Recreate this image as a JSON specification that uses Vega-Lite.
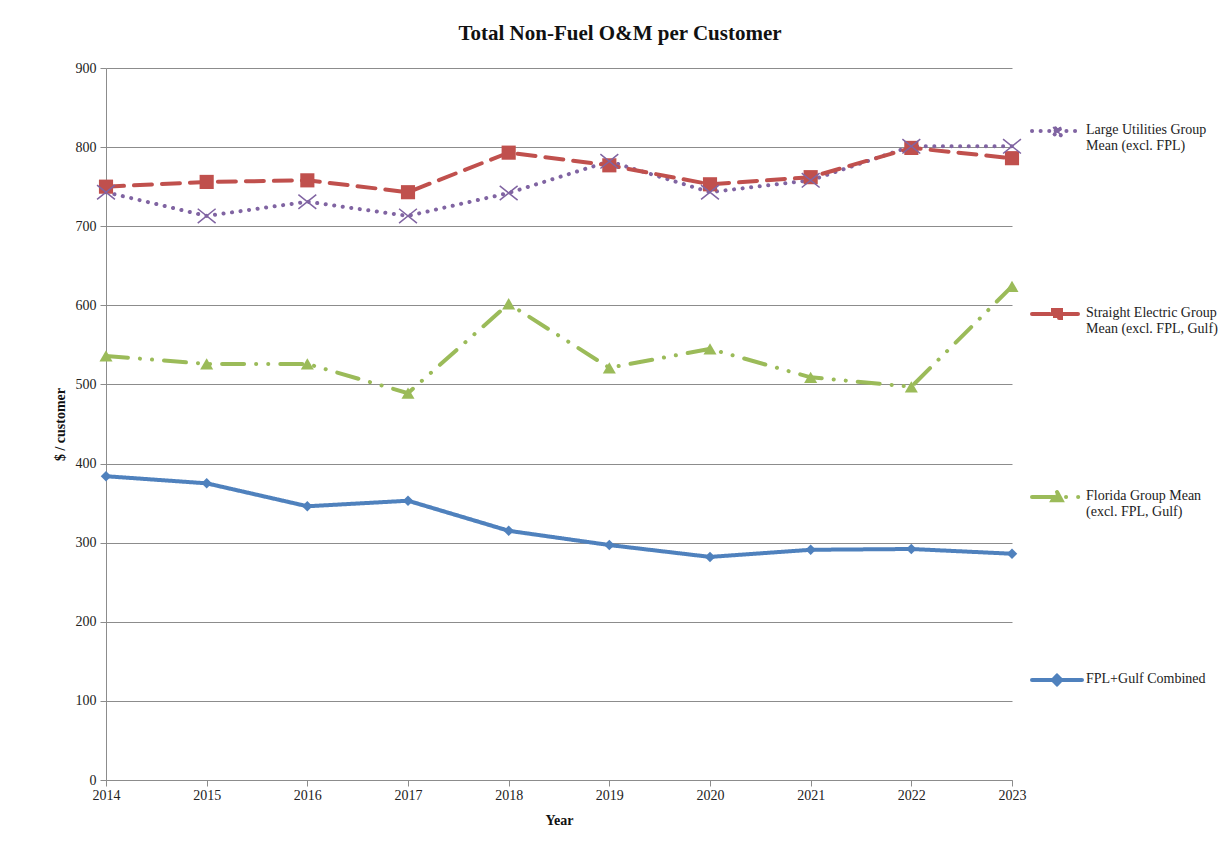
{
  "$schema": "https://vega.github.io/schema/vega-lite/v6.json",
  "width": 906,
  "height": 712,
  "autosize": "none",
  "padding": {"left": 106, "top": 68, "right": 208, "bottom": 70},
  "background": "white",
  "title": {
    "text": "Total Non-Fuel O&M per Customer",
    "font": "Liberation Serif",
    "fontSize": 21,
    "fontWeight": "bold",
    "color": "#111111",
    "anchor": "middle",
    "frame": "group",
    "dx": 61,
    "offset": 0,
    "baseline": "alphabetic"
  },
  "config": {
    "font": "Liberation Serif",
    "view": {"stroke": null},
    "axis": {
      "labelFont": "Liberation Serif",
      "titleFont": "Liberation Serif",
      "labelColor": "#222222",
      "titleColor": "#111111",
      "domainColor": "#8c8c8c",
      "tickColor": "#8c8c8c",
      "gridColor": "#8c8c8c",
      "labelFontSize": 14,
      "titleFontSize": 14
    }
  },
  "data": {
    "values": [
      {"series": "Large Utilities Group Mean (excl. FPL)", "year": 2014, "value": 743},
      {"series": "Large Utilities Group Mean (excl. FPL)", "year": 2015, "value": 713},
      {"series": "Large Utilities Group Mean (excl. FPL)", "year": 2016, "value": 731},
      {"series": "Large Utilities Group Mean (excl. FPL)", "year": 2017, "value": 713},
      {"series": "Large Utilities Group Mean (excl. FPL)", "year": 2018, "value": 742},
      {"series": "Large Utilities Group Mean (excl. FPL)", "year": 2019, "value": 782},
      {"series": "Large Utilities Group Mean (excl. FPL)", "year": 2020, "value": 743},
      {"series": "Large Utilities Group Mean (excl. FPL)", "year": 2021, "value": 758},
      {"series": "Large Utilities Group Mean (excl. FPL)", "year": 2022, "value": 801},
      {"series": "Large Utilities Group Mean (excl. FPL)", "year": 2023, "value": 801},
      {"series": "Straight Electric Group Mean (excl. FPL, Gulf)", "year": 2014, "value": 750},
      {"series": "Straight Electric Group Mean (excl. FPL, Gulf)", "year": 2015, "value": 756},
      {"series": "Straight Electric Group Mean (excl. FPL, Gulf)", "year": 2016, "value": 758},
      {"series": "Straight Electric Group Mean (excl. FPL, Gulf)", "year": 2017, "value": 743},
      {"series": "Straight Electric Group Mean (excl. FPL, Gulf)", "year": 2018, "value": 793},
      {"series": "Straight Electric Group Mean (excl. FPL, Gulf)", "year": 2019, "value": 777},
      {"series": "Straight Electric Group Mean (excl. FPL, Gulf)", "year": 2020, "value": 753},
      {"series": "Straight Electric Group Mean (excl. FPL, Gulf)", "year": 2021, "value": 762},
      {"series": "Straight Electric Group Mean (excl. FPL, Gulf)", "year": 2022, "value": 799},
      {"series": "Straight Electric Group Mean (excl. FPL, Gulf)", "year": 2023, "value": 786},
      {"series": "Florida Group Mean (excl. FPL, Gulf)", "year": 2014, "value": 536},
      {"series": "Florida Group Mean (excl. FPL, Gulf)", "year": 2015, "value": 526},
      {"series": "Florida Group Mean (excl. FPL, Gulf)", "year": 2016, "value": 526},
      {"series": "Florida Group Mean (excl. FPL, Gulf)", "year": 2017, "value": 489},
      {"series": "Florida Group Mean (excl. FPL, Gulf)", "year": 2018, "value": 602},
      {"series": "Florida Group Mean (excl. FPL, Gulf)", "year": 2019, "value": 521},
      {"series": "Florida Group Mean (excl. FPL, Gulf)", "year": 2020, "value": 545},
      {"series": "Florida Group Mean (excl. FPL, Gulf)", "year": 2021, "value": 509},
      {"series": "Florida Group Mean (excl. FPL, Gulf)", "year": 2022, "value": 497},
      {"series": "Florida Group Mean (excl. FPL, Gulf)", "year": 2023, "value": 624},
      {"series": "FPL+Gulf Combined", "year": 2014, "value": 384},
      {"series": "FPL+Gulf Combined", "year": 2015, "value": 375},
      {"series": "FPL+Gulf Combined", "year": 2016, "value": 346},
      {"series": "FPL+Gulf Combined", "year": 2017, "value": 353},
      {"series": "FPL+Gulf Combined", "year": 2018, "value": 315},
      {"series": "FPL+Gulf Combined", "year": 2019, "value": 297},
      {"series": "FPL+Gulf Combined", "year": 2020, "value": 282},
      {"series": "FPL+Gulf Combined", "year": 2021, "value": 291},
      {"series": "FPL+Gulf Combined", "year": 2022, "value": 292},
      {"series": "FPL+Gulf Combined", "year": 2023, "value": 286}
    ]
  },
  "encoding": {
    "x": {
      "field": "year",
      "type": "quantitative",
      "scale": {"domain": [2014, 2023], "nice": false, "zero": false},
      "axis": {
        "values": [2014, 2015, 2016, 2017, 2018, 2019, 2020, 2021, 2022, 2023],
        "format": "d",
        "grid": false,
        "title": "Year",
        "titleFontWeight": "bold",
        "titlePadding": 11,
        "tickSize": 6,
        "labelPadding": 2,
        "labelFlush": false,
        "labelFontSize": 14,
        "titleFontSize": 14
      }
    },
    "y": {
      "field": "value",
      "type": "quantitative",
      "scale": {"domain": [0, 900], "nice": false},
      "axis": {
        "values": [0, 100, 200, 300, 400, 500, 600, 700, 800, 900],
        "grid": true,
        "title": "$ / customer",
        "titleFontWeight": "bold",
        "titlePadding": 8,
        "tickSize": 6,
        "labelPadding": 4,
        "labelFontSize": 14,
        "titleFontSize": 14
      }
    }
  },
  "layer": [
    {
      "mark": {"type": "line", "strokeWidth": 4, "strokeCap": "round"},
      "encoding": {
        "color": {
          "field": "series",
          "type": "nominal",
          "scale": {
            "domain": ["Large Utilities Group Mean (excl. FPL)", "Straight Electric Group Mean (excl. FPL, Gulf)", "Florida Group Mean (excl. FPL, Gulf)", "FPL+Gulf Combined"],
            "range": ["#8064A2", "#C0504D", "#9BBB59", "#4F81BD"]
          },
          "legend": {
            "orient": "none",
            "legendX": 924,
            "legendY": 36,
            "title": null,
            "symbolType": "stroke",
            "symbolSize": 2500,
            "symbolStrokeWidth": 4,
            "labelFont": "Liberation Serif",
            "labelFontSize": 14,
            "labelColor": "#222222",
            "labelBaseline": "top",
            "labelOffset": 2,
            "labelLimit": 200,
            "rowPadding": 134,
            "labelExpr": "datum.label == 'Large Utilities Group Mean (excl. FPL)' ? ['Large Utilities Group', 'Mean (excl. FPL)'] : datum.label == 'Straight Electric Group Mean (excl. FPL, Gulf)' ? ['Straight Electric Group', 'Mean (excl. FPL, Gulf)'] : datum.label == 'Florida Group Mean (excl. FPL, Gulf)' ? ['Florida Group Mean', '(excl. FPL, Gulf)'] : datum.label",
            "encode": {
              "labels": {"update": {"dy": {"value": -8}}},
              "symbols": {
                "update": {
                  "shape": {"signal": "datum.value == 'FPL+Gulf Combined' ? 'M-1,0L1,0M0,-0.17L0.17,0L0,0.17L-0.17,0Z' : datum.value == 'Florida Group Mean (excl. FPL, Gulf)' ? 'M-1,0L1,0M0,-0.2L0.18,0.13L-0.18,0.13Z' : datum.value == 'Straight Electric Group Mean (excl. FPL, Gulf)' ? 'M-1,0L1,0M-0.16,-0.16L0.16,-0.16L0.16,0.16L-0.16,0.16Z' : 'M-1,0L1,0M0,-0.04L0.14,-0.18L0.18,-0.14L0.04,0L0.18,0.14L0.14,0.18L0,0.04L-0.14,0.18L-0.18,0.14L-0.04,0L-0.18,-0.14L-0.14,-0.18Z'"},
                  "size": {"value": 2500},
                  "fill": {"signal": "datum.value == 'FPL+Gulf Combined' ? '#4F81BD' : datum.value == 'Florida Group Mean (excl. FPL, Gulf)' ? '#9BBB59' : datum.value == 'Straight Electric Group Mean (excl. FPL, Gulf)' ? '#C0504D' : '#8064A2'"},
                  "stroke": {"signal": "datum.value == 'FPL+Gulf Combined' ? '#4F81BD' : datum.value == 'Florida Group Mean (excl. FPL, Gulf)' ? '#9BBB59' : datum.value == 'Straight Electric Group Mean (excl. FPL, Gulf)' ? '#C0504D' : '#8064A2'"},
                  "strokeDash": {"signal": "datum.value == 'FPL+Gulf Combined' ? [1, 0] : datum.value == 'Florida Group Mean (excl. FPL, Gulf)' ? [22, 8, 0.1, 8, 0.1, 20] : datum.value == 'Straight Electric Group Mean (excl. FPL, Gulf)' ? [17, 16, 17] : [0.1, 8.3]"},
                  "strokeWidth": {"value": 4},
                  "strokeCap": {"value": "round"},
                  "opacity": {"value": 1},
                  "fillOpacity": {"value": 1},
                  "strokeOpacity": {"value": 1}
                }
              }
            }
          }
        },
        "strokeDash": {
          "field": "series",
          "type": "nominal",
          "scale": {
            "domain": ["Large Utilities Group Mean (excl. FPL)", "Straight Electric Group Mean (excl. FPL, Gulf)", "Florida Group Mean (excl. FPL, Gulf)", "FPL+Gulf Combined"],
            "range": [[0.1, 8.5], [18, 10], [22, 12, 0.1, 12, 0.1, 12], [1, 0]]
          }
        },
        "order": {"field": "year"}
      }
    },
    {
      "transform": [{"filter": "datum.series == 'FPL+Gulf Combined'"}],
      "mark": {"type": "point", "shape": "diamond", "filled": true, "opacity": 1, "size": 110, "color": "#4F81BD"}
    },
    {
      "transform": [{"filter": "datum.series == 'Florida Group Mean (excl. FPL, Gulf)'"}],
      "mark": {"type": "point", "shape": "triangle-up", "filled": true, "opacity": 1, "size": 170, "color": "#9BBB59"}
    },
    {
      "transform": [{"filter": "datum.series == 'Straight Electric Group Mean (excl. FPL, Gulf)'"}],
      "mark": {"type": "point", "shape": "square", "filled": true, "opacity": 1, "size": 200, "color": "#C0504D"}
    },
    {
      "transform": [{"filter": "datum.series == 'Large Utilities Group Mean (excl. FPL)'"}],
      "mark": {"type": "point", "shape": "M-1,-0.8L1,0.8M-1,0.8L1,-0.8", "filled": false, "opacity": 1, "size": 320, "strokeWidth": 1.5, "color": "#8064A2"}
    }
  ]
}
